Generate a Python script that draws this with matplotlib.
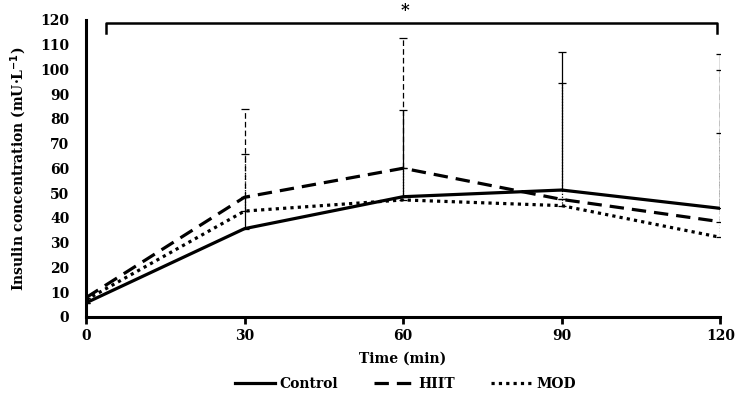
import matplotlib
matplotlib.use("Agg")
import matplotlib.pyplot as plt
import numpy as np

time = [0, 30, 60, 90, 120]
control = [5.7, 35.7, 48.6, 51.3, 43.9]
hiit = [7.8, 48.4, 60.1, 47.5, 38.5]
mod = [6.9, 42.8, 47.3, 45.0, 32.2]
control_sd = [0, 12.8, 35.2, 55.7, 62.4]
hiit_sd = [0, 35.6, 52.8, 0, 61.1]
mod_sd = [0, 22.9, 13.0, 49.4, 42.0]
y_ticks = list(range(0, 121, 10))
x_ticks = [0, 30, 60, 90, 120]

plt.rcParams['font.family'] = ['DejaVu Serif']
plt.rcParams['font.weight'] = 'bold'

fig = plt.figure(figsize=(7.41, 4.03), dpi=100)
ax = fig.add_axes([0.116, 0.2134, 0.856, 0.737])

series = [
    ("Control", control, control_sd, '-', 2.3),
    ("HIIT", hiit, hiit_sd, (0, (4.5, 2.5)), 2.3),
    ("MOD", mod, mod_sd, (0, (1, 1.3)), 2.3),
]
for name, vals, sd, ls, lw in series:
    ax.plot(time, vals, color='black', linestyle=ls, linewidth=lw, label=name)
    eb = ax.errorbar(time, vals, yerr=[np.zeros(len(sd)), sd], fmt='none',
                     ecolor='black', elinewidth=0.9, capsize=3, capthick=0.9)
    for lc in eb[2]:
        lc.set_linestyle(ls if ls != '-' else 'solid')

ax.set_xlim(0, 120)
ax.set_ylim(0, 120)
ax.set_xticks(x_ticks)
ax.set_yticks(y_ticks)
ax.tick_params(axis='y', length=0, labelsize=10, pad=12)
ax.tick_params(axis='x', length=5, width=2, labelsize=10, pad=4)
for lab in ax.get_xticklabels() + ax.get_yticklabels():
    lab.set_fontweight('bold')
for s in ['top', 'right']:
    ax.spines[s].set_visible(False)
for s in ['left', 'bottom']:
    ax.spines[s].set_linewidth(2.2)

ax.set_xlabel("Time (min)", fontsize=10, fontweight='bold', labelpad=6)
ax.set_ylabel("Insulin concentration (mU·L$^{\\mathbf{-1}}$)", fontsize=10, fontweight='bold', labelpad=8)

# significance bracket
ax.plot([3.8, 3.8, 119.4, 119.4], [114.7, 118.8, 118.8, 114.7], color='black',
        linewidth=1.8, clip_on=False)
ax.text(60.3, 120.5, "*", ha='center', va='bottom', fontsize=12, fontweight='bold')

leg = fig.legend(loc='lower center', bbox_to_anchor=(0.547, 0.0), ncol=3, frameon=False,
                 prop={'weight': 'bold', 'size': 10}, handlelength=2.9, columnspacing=2.6,
                 handletextpad=0.3)

fig.savefig("out.png", dpi=100)
